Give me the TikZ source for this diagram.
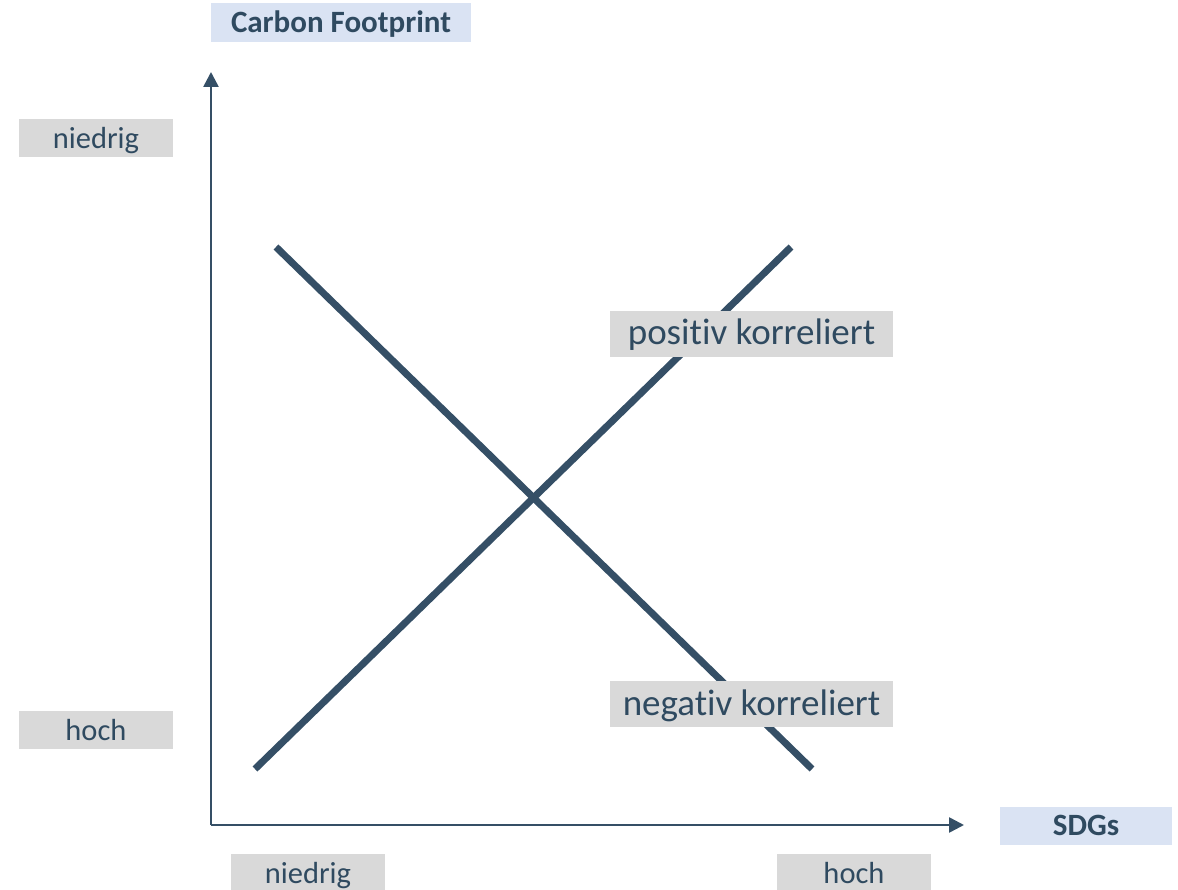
\documentclass[tikz,border=0pt]{standalone}
\usepackage{fontspec}
\setmainfont[Ligatures=NoCommon]{Carlito}
\usetikzlibrary{arrows.meta}
\definecolor{ink}{HTML}{2F4A60}
\definecolor{lineblue}{HTML}{354F66}
\definecolor{graybox}{HTML}{D9D9D9}
\definecolor{bluebox}{HTML}{DAE3F3}
\begin{document}
\begin{tikzpicture}[x=1pt,y=-1pt,
  lbl/.style={fill=graybox,text=ink,inner sep=0pt,minimum width=154pt,text height=29.5pt,text depth=8.5pt,font=\fontsize{30.5}{34}\selectfont},
  big/.style={fill=graybox,text=ink,inner sep=0pt,minimum width=283pt,text height=34pt,text depth=12pt,font=\fontsize{37}{42}\selectfont},
  ttl/.style={fill=bluebox,text=ink,inner sep=0pt,font=\fontsize{31}{35}\selectfont\bfseries},
  axis/.style={draw=lineblue,line width=2.6pt,-{Triangle[length=15pt,width=15pt]}},
  corr/.style={draw=lineblue,line width=7pt}]
\useasboundingbox (0,0) rectangle (1178,890);
% axes
\coordinate (o) at (211,825);
\coordinate (ytip) at (211,72);
\coordinate (xtip) at (964,825);
\draw[axis] (o) -- (ytip);
\draw[axis] (o) -- (xtip);
% correlation lines
\coordinate (n1) at (276,247);
\coordinate (n2) at (812,769);
\coordinate (p1) at (255,769);
\coordinate (p2) at (791,247);
\draw[corr] (n1) -- (n2);
\draw[corr] (p1) -- (p2);
% labels
\node[ttl,minimum width=260pt,text height=30pt,text depth=9pt] (cf) at (341,22.5) {Carbon Footprint};
\node[ttl,minimum width=172pt,text height=28pt,text depth=10pt] (sdg) at (1086,826) {SDGs};
\node[lbl] (yn) at (96,138) {niedrig};
\node[lbl] (yh) at (96,730) {hoch};
\node[lbl] (xn) at (308,873) {niedrig};
\node[lbl] (xh) at (854,873) {hoch};
\node[big] (pk) at (751.5,334) {positiv korreliert};
\node[big] (nk) at (751.5,704) {negativ korreliert};
\end{tikzpicture}
\end{document}
